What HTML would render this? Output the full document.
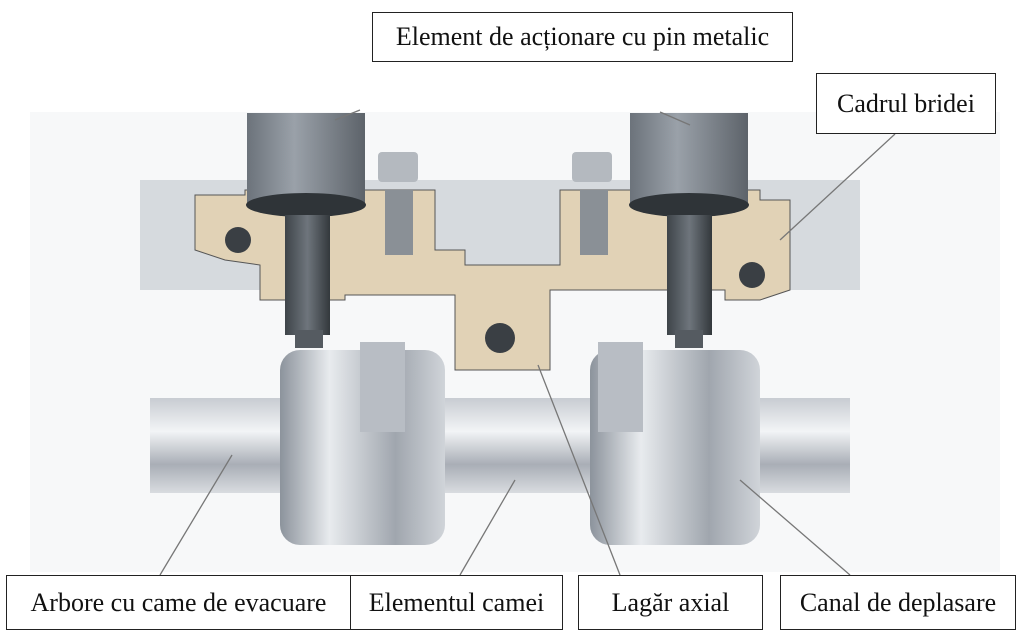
<!DOCTYPE html>
<html><head><meta charset="utf-8"><style>
body{margin:0;width:1024px;height:634px;background:#fff;overflow:hidden;position:relative;font-family:"Liberation Serif",serif}
.b{position:absolute;border:1.5px solid #222;background:#fff;font-size:26px;color:#111;display:flex;align-items:center;justify-content:center;box-sizing:border-box;white-space:nowrap}
svg{position:absolute;left:0;top:0}
</style></head><body>
<svg width="1024" height="634" viewBox="0 0 1024 634">
<defs>
<linearGradient id="sh" x1="0" y1="0" x2="0" y2="1"><stop offset="0" stop-color="#c8ccd2"/><stop offset=".35" stop-color="#f2f4f6"/><stop offset=".7" stop-color="#a9aeb6"/><stop offset="1" stop-color="#d9dce0"/></linearGradient>
<linearGradient id="cm" x1="0" y1="0" x2="1" y2="0"><stop offset="0" stop-color="#8c939c"/><stop offset=".3" stop-color="#e8ebee"/><stop offset=".7" stop-color="#a0a6ae"/><stop offset="1" stop-color="#d0d4d9"/></linearGradient>
<linearGradient id="ac" x1="0" y1="0" x2="1" y2="0"><stop offset="0" stop-color="#6c737b"/><stop offset=".4" stop-color="#9aa1a9"/><stop offset="1" stop-color="#5d636a"/></linearGradient>
<linearGradient id="pn" x1="0" y1="0" x2="1" y2="0"><stop offset="0" stop-color="#3e4449"/><stop offset=".5" stop-color="#6e757c"/><stop offset="1" stop-color="#33383c"/></linearGradient>
</defs>
<rect x="30" y="112" width="970" height="460" fill="#f7f8f9"/>
<rect x="140" y="180" width="720" height="110" fill="#d6dade"/>
<rect x="150" y="398" width="700" height="95" fill="url(#sh)"/>
<rect x="280" y="350" width="165" height="195" rx="20" fill="url(#cm)"/>
<rect x="590" y="350" width="170" height="195" rx="20" fill="url(#cm)"/>
<rect x="360" y="342" width="45" height="90" fill="#b8bdc4"/>
<rect x="598" y="342" width="45" height="90" fill="#b8bdc4"/>
<path d="M195 195 H245 V190 H435 V250 H465 V265 H560 V190 H760 V200 H790 V290 L760 300 H725 V290 H550 V370 H455 V295 H345 V300 H260 V265 L225 260 L195 250 Z" fill="#e1d2b6" stroke="#555" stroke-width="1"/>
<circle cx="238" cy="240" r="13" fill="#3a3f44"/>
<circle cx="752" cy="275" r="13" fill="#3a3f44"/>
<circle cx="500" cy="338" r="15" fill="#3a3f44"/>
<rect x="385" y="190" width="28" height="65" fill="#8a9096"/>
<rect x="580" y="190" width="28" height="65" fill="#8a9096"/>
<rect x="378" y="152" width="40" height="30" rx="4" fill="#b4b9bf"/>
<rect x="572" y="152" width="40" height="30" rx="4" fill="#b4b9bf"/>
<rect x="247" y="113" width="118" height="92" fill="url(#ac)"/>
<rect x="630" y="113" width="118" height="92" fill="url(#ac)"/>
<ellipse cx="306" cy="205" rx="60" ry="12" fill="#2f3438"/>
<ellipse cx="689" cy="205" rx="60" ry="12" fill="#2f3438"/>
<rect x="285" y="215" width="45" height="120" fill="url(#pn)"/>
<rect x="667" y="215" width="45" height="120" fill="url(#pn)"/>
<rect x="295" y="330" width="28" height="18" fill="#555b61"/>
<rect x="675" y="330" width="28" height="18" fill="#555b61"/>
<g stroke="#777" stroke-width="1.3" fill="none">
<line x1="335" y1="120" x2="360" y2="110"/>
<line x1="690" y1="125" x2="660" y2="112"/>
<line x1="780" y1="240" x2="895" y2="134"/>
<line x1="232" y1="455" x2="160" y2="575"/>
<line x1="515" y1="480" x2="460" y2="575"/>
<line x1="538" y1="365" x2="620" y2="575"/>
<line x1="740" y1="480" x2="850" y2="575"/>
</g>
</svg>
<div class="b" style="left:372px;top:12px;width:421px;height:50px">Element de acționare cu pin metalic</div>
<div class="b" style="left:816px;top:73px;width:180px;height:61px">Cadrul bridei</div>
<div class="b" style="left:6px;top:575px;width:345px;height:55px">Arbore cu came de evacuare</div>
<div class="b" style="left:350px;top:575px;width:213px;height:55px">Elementul camei</div>
<div class="b" style="left:578px;top:575px;width:185px;height:55px">Lagăr axial</div>
<div class="b" style="left:780px;top:575px;width:236px;height:55px">Canal de deplasare</div>
</body></html>
